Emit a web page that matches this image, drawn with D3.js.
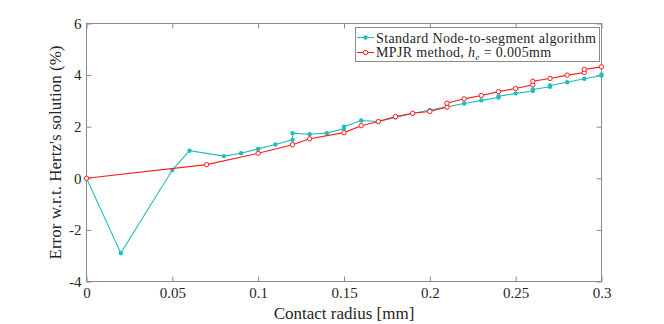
<!DOCTYPE html>
<head>
    <meta charset="utf-8">
    <title>Error w.r.t. Hertz's solution</title>
    <script src="https://d3js.org/d3.v7.min.js"></script>
    <style>
    body { margin: 0; background: #fff; }
    text { font-family: "Liberation Serif", "Times New Roman", serif; fill: #262626; }
    </style>
</head>
<body>
<script>
// Standard node-to-segment algorithm (x repeats where two values were recorded)
var ntsX = [0, 0.02, 0.05, 0.06, 0.08, 0.09, 0.10, 0.11, 0.12, 0.12, 0.13, 0.14, 0.15, 0.15, 0.16, 0.17,
            0.18, 0.19, 0.20, 0.21, 0.22, 0.23, 0.24, 0.24, 0.25, 0.26, 0.26, 0.27, 0.27, 0.28, 0.29, 0.30, 0.30];
var ntsY = [0, -2.9, 0.32, 1.07, 0.86, 0.97, 1.14, 1.31, 1.49, 1.75, 1.71, 1.75, 1.92, 2.0, 2.24, 2.2,
            2.36, 2.51, 2.65, 2.77, 2.9, 3.02, 3.13, 3.18, 3.29, 3.38, 3.44, 3.55, 3.6, 3.72, 3.86, 3.98, 4.03];

// MPJR method
var mpjrX = [0, 0.07, 0.10, 0.12, 0.13, 0.15, 0.16, 0.17, 0.18, 0.19, 0.20, 0.21, 0.21, 0.22, 0.23, 0.24,
             0.25, 0.26, 0.26, 0.27, 0.28, 0.29, 0.29, 0.30];
var mpjrY = [0, 0.53, 0.97, 1.3, 1.53, 1.77, 2.04, 2.2, 2.39, 2.52, 2.59, 2.76, 2.91, 3.08, 3.21, 3.36,
             3.48, 3.62, 3.76, 3.87, 4.0, 4.1, 4.22, 4.32];

var xTicks = [0, 0.05, 0.1, 0.15, 0.2, 0.25, 0.3];
var yTicks = [-4, -2, 0, 2, 4, 6];

var width = 664, height = 324;
var mLeft = 86.5, mRight = 601.5, mTop = 23.5, mBottom = 281.5;
var axisCol = "#8a8a8a";
var cyan = "#20bdbd", red = "#ff1a1a";

var svg = d3.select("body").append("svg")
    .attr("width", width)
    .attr("height", height);

var x = d3.scaleLinear().domain([0, 0.3]).range([mLeft, mRight]);
var y = d3.scaleLinear().domain([-4, 6]).range([mBottom, mTop]);

// box
svg.append("rect")
    .attr("x", mLeft).attr("y", mTop)
    .attr("width", mRight - mLeft).attr("height", mBottom - mTop)
    .attr("fill", "none").attr("stroke", axisCol);

function styleAxis(g) {
    g.select(".domain").remove();
    g.selectAll(".tick line").attr("stroke", axisCol);
    g.selectAll(".tick text").style("font-size", "15px").attr("fill", "#262626")
        .style("font-family", "Liberation Serif, serif");
}

svg.append("g").attr("transform", "translate(0," + mBottom + ")")
    .call(d3.axisBottom(x).tickValues(xTicks).tickSizeInner(-5).tickSizeOuter(0).tickPadding(6)
        .tickFormat(function(d) { return String(+d.toFixed(2)); }))
    .call(styleAxis);
svg.append("g").attr("transform", "translate(0," + mTop + ")")
    .call(d3.axisTop(x).tickValues(xTicks).tickSizeInner(-5).tickSizeOuter(0).tickFormat(""))
    .call(styleAxis);
svg.append("g").attr("transform", "translate(" + mLeft + ",0)")
    .call(d3.axisLeft(y).tickValues(yTicks).tickSizeInner(-5).tickSizeOuter(0).tickPadding(5)
        .tickFormat(function(d) { return d < 0 ? "-" + Math.abs(d) : String(d); }))
    .call(styleAxis);
svg.append("g").attr("transform", "translate(" + mRight + ",0)")
    .call(d3.axisRight(y).tickValues(yTicks).tickSizeInner(-5).tickSizeOuter(0).tickFormat(""))
    .call(styleAxis);

// axis labels
svg.append("text")
    .attr("x", (mLeft + mRight) / 2).attr("y", 319)
    .attr("text-anchor", "middle")
    .style("font-size", "17px")
    .text("Contact radius [mm]");
svg.append("text")
    .attr("transform", "translate(61," + ((mTop + mBottom) / 2) + ") rotate(-90)")
    .attr("text-anchor", "middle")
    .style("font-size", "17px")
    .text("Error w.r.t. Hertz's solution (%)");

var line = d3.line().x(function(d) { return x(d[0]); }).y(function(d) { return y(d[1]); });

var nts = d3.zip(ntsX, ntsY);
var mpjr = d3.zip(mpjrX, mpjrY);

svg.append("path").datum(nts)
    .attr("d", line).attr("fill", "none").attr("stroke", cyan).attr("stroke-width", 1.1);
svg.selectAll(".nts").data(nts).enter().append("circle")
    .attr("cx", function(d) { return x(d[0]); })
    .attr("cy", function(d) { return y(d[1]); })
    .attr("r", 2.2).attr("fill", cyan);

svg.append("path").datum(mpjr)
    .attr("d", line).attr("fill", "none").attr("stroke", red).attr("stroke-width", 1.1);
svg.selectAll(".mpjr").data(mpjr).enter().append("circle")
    .attr("cx", function(d) { return x(d[0]); })
    .attr("cy", function(d) { return y(d[1]); })
    .attr("r", 2.2).attr("fill", "#fff").attr("stroke", red).attr("stroke-width", 1);

// legend
var lg = svg.append("g");
lg.append("rect")
    .attr("x", 355.5).attr("y", 27.5).attr("width", 244).attr("height", 34)
    .attr("fill", "#fff").attr("stroke", axisCol);
var entries = [
    { col: cyan, open: false, yy: 37.5 },
    { col: red, open: true, yy: 52.5 }
];
entries.forEach(function(e) {
    lg.append("line").attr("x1", 357).attr("x2", 374).attr("y1", e.yy).attr("y2", e.yy)
        .attr("stroke", e.col).attr("stroke-width", 1.1);
    lg.append("circle").attr("cx", 365.5).attr("cy", e.yy).attr("r", 2.2)
        .attr("fill", e.open ? "#fff" : e.col).attr("stroke", e.open ? e.col : "none");
});
lg.append("text").attr("x", 376).attr("y", 42.5).style("font-size", "14px")
    .style("letter-spacing", "0.35px")
    .text("Standard Node-to-segment algorithm");
var t2 = lg.append("text").attr("x", 376).attr("y", 57).style("font-size", "14px")
    .style("letter-spacing", "0.35px");
t2.append("tspan").text("MPJR method, ");
t2.append("tspan").style("font-style", "italic").text("h");
t2.append("tspan").attr("dy", 3).style("font-size", "9px").style("font-style", "italic").text("e");
t2.append("tspan").attr("dy", -3).text(" = 0.005mm");
</script>
</body>
